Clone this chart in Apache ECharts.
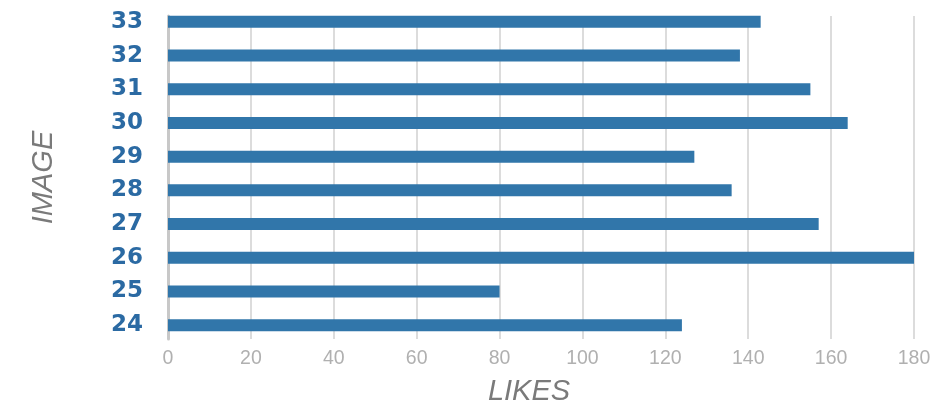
<!DOCTYPE html>
<html>
<head>
<meta charset="utf-8">
<script src="https://cdn.jsdelivr.net/npm/echarts@6/dist/echarts.min.js"></script>
<style>
html,body{margin:0;padding:0;background:#fff;}
#chart{width:943px;height:411px;}
</style>
</head>
<body>
<div id="chart"></div>
<script>
const images = ['24','25','26','27','28','29','30','31','32','33'];
const likes = [124, 80, 180, 157, 136, 127, 164, 155, 138, 143];
const xTicks = {min: 0, max: 180, interval: 20};

const chart = echarts.init(document.getElementById('chart'), null, {renderer: 'canvas'});
chart.setOption({
  animation: false,
  backgroundColor: '#ffffff',
  grid: [
    {left: 168, right: 29, top: 5, height: 337},
    {left: 168, right: 29, top: 16, height: 327}
  ],
  xAxis: [
    {gridIndex: 0, type: 'value', min: xTicks.min, max: xTicks.max, show: false, splitLine: {show: false}},
    {gridIndex: 1, type: 'value', min: xTicks.min, max: xTicks.max, interval: xTicks.interval,
     axisLine: {show: false}, axisTick: {show: false},
     splitLine: {show: true, lineStyle: {color: '#dcdcdc', width: 2}},
     axisLabel: {color: '#b0b0b0', fontSize: 19.5, margin: 10, fontFamily: 'Liberation Sans'},
     name: 'LIKES', nameLocation: 'middle', nameGap: 38,
     nameTextStyle: {color: '#7a7a7a', fontSize: 29, fontStyle: 'italic', fontFamily: 'Liberation Sans', padding: [0, 24, 0, 0]}}
  ],
  yAxis: [
    {gridIndex: 0, type: 'category', data: images,
     axisLine: {show: false}, axisTick: {show: false}, splitLine: {show: false},
     axisLabel: {color: '#2b6aa3', fontSize: 23, fontWeight: 'bold', margin: 25, fontFamily: 'DejaVu Sans'}},
    {gridIndex: 1, type: 'value', min: 0, max: 1,
     axisLine: {show: true, lineStyle: {color: '#c8c8c8', width: 3}},
     axisTick: {show: false}, axisLabel: {show: false}, splitLine: {show: false},
     name: 'IMAGE', nameLocation: 'middle', nameGap: 110, nameRotate: 90,
     nameTextStyle: {color: '#7a7a7a', fontSize: 29, fontStyle: 'italic', fontFamily: 'Liberation Sans'}}
  ],
  series: [
    {type: 'bar', xAxisIndex: 0, yAxisIndex: 0, data: likes, barWidth: 12,
     itemStyle: {color: '#3176aa'}, silent: true},
    {type: 'bar', xAxisIndex: 1, yAxisIndex: 1, data: [], silent: true}
  ]
});
</script>
</body>
</html>
